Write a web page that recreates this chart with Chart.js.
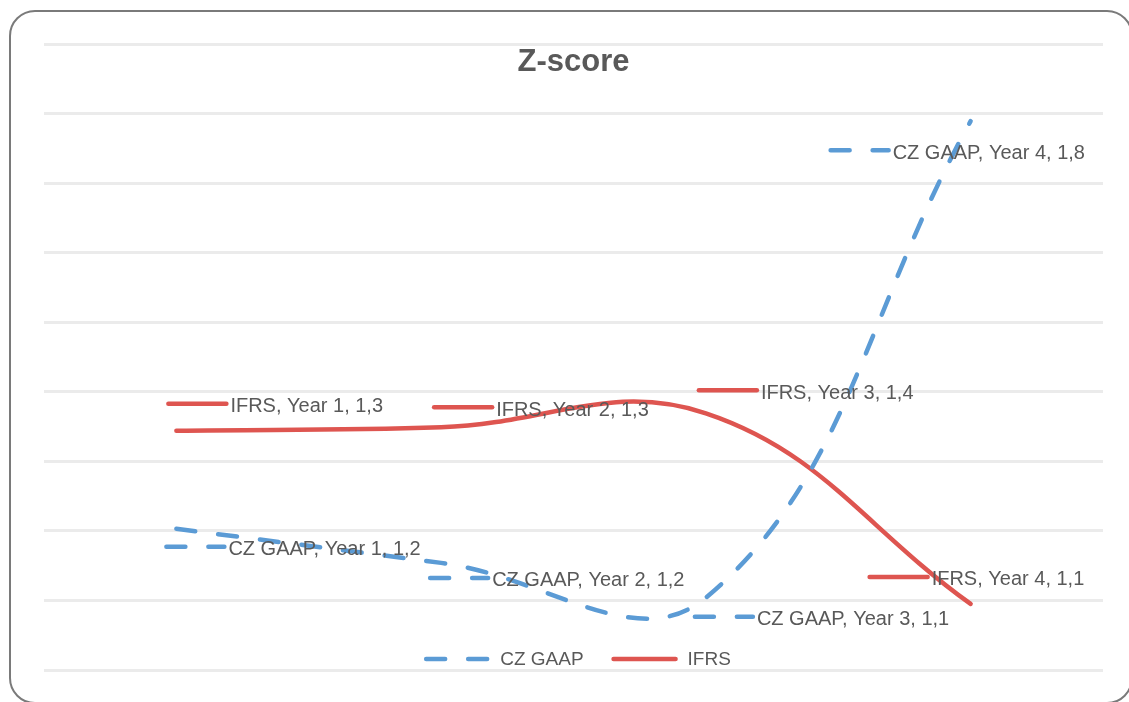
<!DOCTYPE html>
<html>
<head>
<meta charset="utf-8">
<title>Z-score</title>
<script src="https://cdn.jsdelivr.net/npm/chart.js@4.4.1/dist/chart.umd.min.js"></script>
<style>
  html, body { margin: 0; padding: 0; background: #fff; }
  #wrap { position: relative; width: 1129px; height: 702px; overflow: hidden; }
  #wrap canvas { position: absolute; left: 0; top: 0; }
  #frame {
    position: absolute; left: 9px; top: 10px; width: 1124px; height: 694px;
    border: 2px solid #7a7a7a; border-radius: 26px; box-sizing: border-box;
    pointer-events: none;
  }
</style>
</head>
<body>
<div id="wrap">
  <canvas id="chart" width="1129" height="702"></canvas>
  <div id="frame"></div>
</div>
<script>
  // values
  var categories = ['Year 1', 'Year 2', 'Year 3', 'Year 4'];
  var czGaap = [1.203, 1.154, 1.104, 1.789];
  var ifrs = [1.344, 1.349, 1.369, 1.095];
  var yMin = 1.0, yMax = 1.9, yStep = 0.1;

  // data label placement, relative to each point (key start x, key y)
  var labelOffsets = [
    [[-12, 18], [-13, 15], [-13, 19], [-142, 29]],
    [[-10, -27], [-9, -20], [-9, -23], [-103, -27]]
  ];

  var TEXT = '#595959';
  var LABEL_FONT = '20px "Liberation Sans", Arial, sans-serif';
  var LEGEND_FONT = '19px "Liberation Sans", Arial, sans-serif';

  function fmt(v) {
    return v.toFixed(1).replace('.', ',');
  }

  function drawKey(ctx, ds, x, y, len) {
    ctx.save();
    ctx.strokeStyle = ds.borderColor;
    ctx.lineWidth = ds.borderWidth;
    ctx.lineCap = ds.borderCapStyle || 'butt';
    ctx.setLineDash(ds.borderDash || []);
    ctx.beginPath();
    ctx.moveTo(x + 2, y);
    ctx.lineTo(x + len - 2, y);
    ctx.stroke();
    ctx.restore();
  }

  var overlay = {
    id: 'overlay',
    afterDatasetsDraw: function (chart) {
      var ctx = chart.ctx;
      ctx.save();
      ctx.font = LABEL_FONT;
      ctx.textBaseline = 'middle';
      chart.data.datasets.forEach(function (ds, di) {
        var meta = chart.getDatasetMeta(di);
        meta.data.forEach(function (pt, i) {
          var off = labelOffsets[di][i];
          var x = pt.x + off[0], y = pt.y + off[1];
          drawKey(ctx, ds, x, y, 62);
          ctx.fillStyle = TEXT;
          ctx.fillText(ds.label + ', ' + categories[i] + ', ' + fmt(ds.data[i]), x + 64, y + 3);
        });
      });
      ctx.restore();
    },
    afterDraw: function (chart) {
      var ctx = chart.ctx, area = chart.chartArea;
      var cx = (area.left + area.right) / 2;
      ctx.save();
      // title
      ctx.fillStyle = TEXT;
      ctx.font = 'bold 31px "Liberation Sans", Arial, sans-serif';
      ctx.textAlign = 'center';
      ctx.textBaseline = 'middle';
      ctx.fillText('Z-score', cx, area.top + 18);

      // legend
      ctx.font = LEGEND_FONT;
      ctx.textAlign = 'left';
      var keyLen = 66, gap = 10, itemGap = 28;
      var sets = chart.data.datasets;
      var total = 0;
      sets.forEach(function (ds, i) {
        total += keyLen + gap + ctx.measureText(ds.label).width + (i ? 0 : itemGap);
      });
      var x = cx + 4 - total / 2, y = area.bottom - 11;
      sets.forEach(function (ds) {
        drawKey(ctx, ds, x, y, keyLen);
        x += keyLen + gap;
        ctx.fillStyle = TEXT;
        ctx.fillText(ds.label, x, y + 1);
        x += ctx.measureText(ds.label).width + itemGap;
      });
      ctx.restore();
    }
  };

  new Chart(document.getElementById('chart'), {
    type: 'line',
    data: {
      labels: categories,
      datasets: [
        {
          label: 'CZ GAAP',
          data: czGaap,
          borderColor: '#5B9BD5',
          borderWidth: 4.5,
          borderDash: [19, 23],
          borderCapStyle: 'round',
          pointRadius: 0,
          tension: 0.4
        },
        {
          label: 'IFRS',
          data: ifrs,
          borderColor: '#DE5550',
          borderWidth: 4.5,
          borderCapStyle: 'round',
          pointRadius: 0,
          tension: 0.4
        }
      ]
    },
    options: {
      responsive: false,
      animation: false,
      layout: { padding: { left: 44, right: 26, top: 44, bottom: 32 } },
      plugins: {
        legend: { display: false },
        title: { display: false },
        tooltip: { enabled: false }
      },
      scales: {
        x: { display: false, offset: true },
        y: {
          min: yMin,
          max: yMax,
          ticks: { display: false, stepSize: yStep },
          grid: { color: '#EBEBEB', lineWidth: 3, drawTicks: false },
          border: { display: false }
        }
      }
    },
    plugins: [overlay]
  });
</script>
</body>
</html>
